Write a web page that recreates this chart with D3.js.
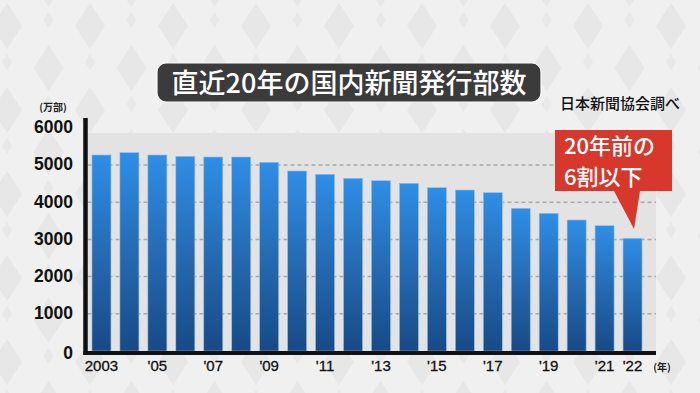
<!DOCTYPE html>
<html>
<head>
<meta charset="utf-8">
<script src="https://cdn.jsdelivr.net/npm/d3@7"></script>
<style>
  html, body { margin: 0; padding: 0; background: #efefef; }
  svg { display: block; }
</style>
</head>
<body>
<div id="chart"></div>
<script>
// 直近20年の国内新聞発行部数 (万部)
var years = [2003, 2004, 2005, 2006, 2007, 2008, 2009, 2010, 2011, 2012,
             2013, 2014, 2015, 2016, 2017, 2018, 2019, 2020, 2021, 2022];
var copies = [5269, 5331, 5269, 5234, 5215, 5215, 5073, 4839, 4750, 4642,
              4578, 4508, 4390, 4328, 4256, 3836, 3702, 3522, 3368, 3030];
var xLabels = ["2003", "", "'05", "", "'07", "", "'09", "", "'11", "",
               "'13", "", "'15", "", "'17", "", "'19", "", "'21", "'22"];
var yTicks = [0, 1000, 2000, 3000, 4000, 5000, 6000];

var W = 700, H = 393;
var plot = {left: 87.5, right: 646.5, top: 127.8, bottom: 351, bgRight: 656, bgTop: 133};
var jp = "'Noto Sans CJK JP', 'Noto Sans', sans-serif";
var num = "'Liberation Sans', Arial, sans-serif";

var svg = d3.select("#chart")
  .append("svg")
    .attr("width", W)
    .attr("height", H);

var defs = svg.append("defs");

// background diamond pattern
var pat = defs.append("pattern")
    .attr("id", "diamonds")
    .attr("patternUnits", "userSpaceOnUse")
    .attr("width", 83).attr("height", 84);
pat.append("rect").attr("width", 83).attr("height", 84).attr("fill", "#f0f0f0");
function diamond(cx, cy, hw, hh) {
  return "M" + cx + "," + (cy - hh) + "L" + (cx + hw) + "," + cy +
         "L" + cx + "," + (cy + hh) + "L" + (cx - hw) + "," + cy + "Z";
}
[[7, 26], [90, 26], [48.5, 68], [48.5, -16], [7, 110], [90, 110], [-35, 68]].forEach(function(p) {
  pat.append("path").attr("d", diamond(p[0], p[1], 15, 23)).attr("fill", "#e7e7e7");
});
[[48.5, 20], [7, 62], [90, 62], [48.5, 104]].forEach(function(p) {
  pat.append("path").attr("d", diamond(p[0], p[1], 5, 8)).attr("fill", "#e8e8e8");
});

var grad = defs.append("linearGradient")
    .attr("id", "barGrad")
    .attr("x1", 0).attr("y1", 0).attr("x2", 0).attr("y2", 1);
grad.append("stop").attr("offset", "0%").attr("stop-color", "#2f8ee6");
grad.append("stop").attr("offset", "55%").attr("stop-color", "#2467ae");
grad.append("stop").attr("offset", "100%").attr("stop-color", "#174a86");

svg.append("rect")
    .attr("width", W).attr("height", H)
    .attr("fill", "url(#diamonds)");

// plot background
svg.append("rect")
    .attr("x", plot.left).attr("y", plot.bgTop)
    .attr("width", plot.bgRight - plot.left)
    .attr("height", plot.bottom - plot.bgTop)
    .attr("fill", "#e3e3e3");

var x = d3.scaleBand()
    .domain(years)
    .range([plot.left, plot.right])
    .paddingInner(0.32)
    .paddingOuter(0.16);

var y = d3.scaleLinear()
    .domain([0, 6000])
    .range([plot.bottom, plot.top]);

// dashed grid
svg.append("g")
  .selectAll("line")
  .data(yTicks.filter(function(d) { return d > 0 && d < 6000; }))
  .enter().append("line")
    .attr("x1", plot.left).attr("x2", plot.bgRight)
    .attr("y1", function(d) { return y(d); })
    .attr("y2", function(d) { return y(d); })
    .attr("stroke", "#a9a9a9")
    .attr("stroke-width", 1.5)
    .attr("stroke-dasharray", "4,3");

// bars
svg.append("g")
  .selectAll("rect")
  .data(years)
  .enter().append("rect")
    .attr("x", function(d) { return x(d); })
    .attr("width", x.bandwidth())
    .attr("y", function(d, i) { return y(copies[i]); })
    .attr("height", function(d, i) { return plot.bottom - y(copies[i]); })
    .attr("fill", "url(#barGrad)")
    .attr("stroke", "#8fc0ee")
    .attr("stroke-width", 0.6);

// axes lines
svg.append("line")
    .attr("x1", 85.5).attr("x2", 85.5)
    .attr("y1", 118).attr("y2", 355)
    .attr("stroke", "#111").attr("stroke-width", 4.5);
svg.append("line")
    .attr("x1", 83.5).attr("x2", plot.bgRight)
    .attr("y1", 353).attr("y2", 353)
    .attr("stroke", "#111").attr("stroke-width", 4);

// y tick labels
svg.append("g")
  .selectAll("text")
  .data(yTicks)
  .enter().append("text")
    .attr("x", 73)
    .attr("y", function(d) { return d === 0 ? 352.5 : y(d) - 1; })
    .attr("dy", "0.36em")
    .attr("text-anchor", "end")
    .attr("font-family", num)
    .attr("font-weight", "bold")
    .attr("font-size", 17.5)
    .attr("fill", "#111")
    .text(function(d) { return d; });

svg.append("text")
    .attr("x", 53).attr("y", 111)
    .attr("text-anchor", "middle")
    .attr("font-family", jp)
    .attr("font-weight", "bold")
    .attr("font-size", 10)
    .attr("fill", "#222")
    .text("(万部)");

// x tick labels
svg.append("g")
  .selectAll("text")
  .data(years)
  .enter().append("text")
    .attr("x", function(d) { return x(d) + x.bandwidth() / 2; })
    .attr("y", 371)
    .attr("text-anchor", "middle")
    .attr("font-family", num)
    .attr("font-size", 15)
    .attr("fill", "#111")
    .attr("stroke", "#111")
    .attr("stroke-width", 0.3)
    .text(function(d, i) { return xLabels[i]; });

svg.append("text")
    .attr("x", 662).attr("y", 371)
    .attr("text-anchor", "middle")
    .attr("font-family", jp)
    .attr("font-weight", "bold")
    .attr("font-size", 10)
    .attr("fill", "#222")
    .text("(年)");

// title
svg.append("rect")
    .attr("x", 157).attr("y", 63)
    .attr("width", 384).attr("height", 39)
    .attr("rx", 9)
    .attr("fill", "#3b3b3b")
    .attr("stroke", "#fafafa").attr("stroke-width", 1.2);
svg.append("text")
    .attr("x", 349).attr("y", 83)
    .attr("dy", "0.36em")
    .attr("text-anchor", "middle")
    .attr("font-family", jp)
    .attr("font-weight", 500)
    .attr("font-size", 27)
    .attr("fill", "#fff")
    .text("直近20年の国内新聞発行部数");

svg.append("text")
    .attr("x", 680).attr("y", 104)
    .attr("dy", "0.36em")
    .attr("text-anchor", "end")
    .attr("font-family", jp)
    .attr("font-weight", 500)
    .attr("font-size", 15)
    .attr("fill", "#111")
    .text("日本新聞協会調べ");

// callout
var call = svg.append("g");
call.append("path")
    .attr("d", "M555,130 H672 V191 H640 L634,229 L614,191 H555 Z")
    .attr("fill", "#d8372c");
call.append("text")
    .attr("x", 564).attr("y", 146)
    .attr("dy", "0.36em")
    .attr("font-family", jp)
    .attr("font-weight", 500)
    .attr("font-size", 22)
    .attr("fill", "#fff")
    .text("20年前の");
call.append("text")
    .attr("x", 564).attr("y", 177)
    .attr("dy", "0.36em")
    .attr("font-family", jp)
    .attr("font-weight", 500)
    .attr("font-size", 22)
    .attr("fill", "#fff")
    .text("6割以下");
</script>
</body>
</html>
